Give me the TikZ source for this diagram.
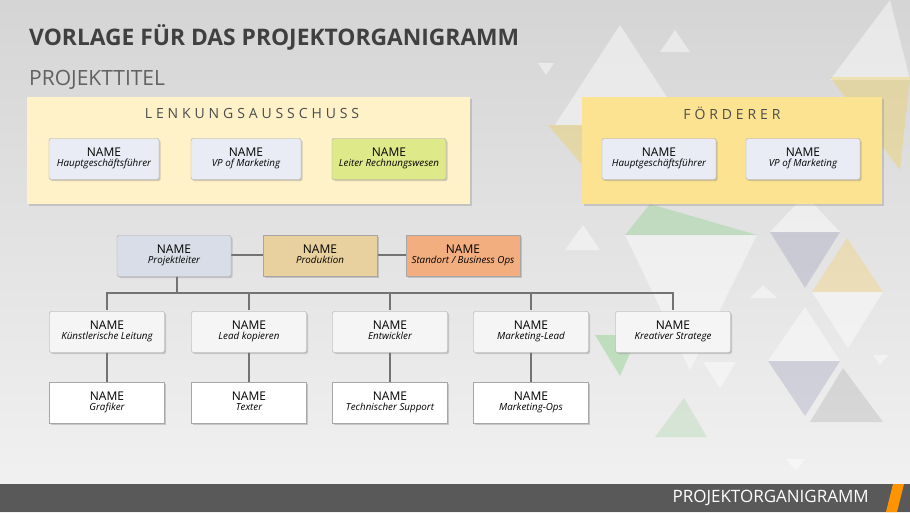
\documentclass[tikz,border=0pt]{standalone}
\usepackage{fontspec}
\setmainfont{Open Sans}
\usetikzlibrary{shadows}
\definecolor{lenk}{HTML}{FFF1C8}
\definecolor{foerd}{HTML}{FCE391}
\definecolor{cardb}{HTML}{E9ECF4}
\definecolor{plb}{HTML}{D9DDE8}
\definecolor{prod}{HTML}{E8D19E}
\definecolor{stand}{HTML}{F3AE80}
\definecolor{lime1}{HTML}{DEE98A}
\begin{document}
\begin{tikzpicture}[x=1pt,y=-1pt,
 card/.style={draw=gray!70,rounded corners=2pt,minimum width=110pt,minimum height=41pt,align=center,font=\fontsize{12}{13}\selectfont,drop shadow={shadow xshift=1.5pt,shadow yshift=-1.5pt,opacity=.35},inner sep=1pt},
 sq/.style={card,rounded corners=0pt},
 frame/.style={drop shadow={shadow xshift=2pt,shadow yshift=-2pt,opacity=.3}},
 con/.style={draw=gray!90!black,line width=1.6pt},
 tri/.style={fill=white,opacity=.45}]
\useasboundingbox (0,0) rectangle (910,512);
\shade[top color=gray!33,bottom color=gray!10] (0,0) rectangle (910,512);
% decorative triangles
\fill[tri] (620,25) -- (555,125) -- (685,125) -- cycle;
\fill[tri] (675,30) -- (660,52) -- (690,52) -- cycle;
\fill[tri] (538,63) -- (554,63) -- (546,75) -- cycle;
\fill[tri] (890,0) -- (830,80) -- (910,80) -- cycle;
\fill[yellow!60!orange,opacity=.25] (830,77) -- (910,77) -- (900,170) -- cycle;
\fill[yellow!60!orange,opacity=.25] (548,125) -- (582,125) -- (582,165) -- cycle;
\fill[green!50!gray,opacity=.2] (625,235) -- (757,235) -- (650,204) -- cycle;
\fill[tri] (625,235) -- (757,235) -- (690,370) -- cycle;
\fill[tri] (583,225) -- (565,250) -- (600,250) -- cycle;
\fill[tri] (770,232) -- (840,232) -- (805,195) -- cycle;
\fill[blue!20!gray,opacity=.2] (770,232) -- (840,232) -- (805,288) -- cycle;
\fill[orange!50!yellow,opacity=.2] (847,238) -- (812,292) -- (883,292) -- cycle;
\fill[tri] (812,292) -- (883,292) -- (848,348) -- cycle;
\fill[tri] (763,285) -- (750,298) -- (777,298) -- cycle;
\fill[tri] (805,307) -- (768,361) -- (840,361) -- cycle;
\fill[blue!20!gray,opacity=.2] (768,361) -- (840,361) -- (805,416) -- cycle;
\fill[gray,opacity=.2] (843,368) -- (810,422) -- (883,422) -- cycle;
\fill[green!50!gray,opacity=.25] (595,335) -- (638,335) -- (620,376) -- cycle;
\fill[tri] (703,362) -- (736,362) -- (720,388) -- cycle;
\fill[green!40!gray,opacity=.15] (684,398) -- (655,437) -- (707,437) -- cycle;
\fill[tri] (873,355) -- (888,355) -- (880,365) -- cycle;
\fill[tri] (786,459) -- (805,459) -- (796,471) -- cycle;
% titles
\node[anchor=west,font=\bfseries\fontsize{22.8}{24}\selectfont,text=black!75,inner sep=0pt] (t) at (29,37) {VORLAGE FÜR DAS PROJEKTORGANIGRAMM};
\node[anchor=west,font=\fontsize{21}{22}\selectfont,text=black!62,inner sep=0pt] (pt) at (29,80) {PROJEKTTITEL};
% frames
\fill[lenk,frame] (27,97) rectangle (470,204);
\fill[foerd,frame] (582,97) rectangle (882,204);
\node[font=\fontsize{14}{15}\selectfont,text=black!70] (lk) at (252,113) {L\;E\;N\;K\;U\;N\;G\;S\;A\;U\;S\;S\;C\;H\;U\;S\;S};
\node[font=\fontsize{14}{15}\selectfont,text=black!70] (fd) at (732,113) {F\;Ö\;R\;D\;E\;R\;E\;R};
\def\nm#1{NAME\\[-2.5pt]{\itshape\fontsize{9.8}{11}\selectfont\strut #1}}
\node[card,fill=cardb] (a1) at (104,159) {\nm{Hauptgeschäftsführer}};
\node[card,fill=cardb] (a2) at (246,159) {\nm{VP of Marketing}};
\node[card,fill=lime1,minimum width=114pt] (a3) at (389,159) {\nm{Leiter Rechnungswesen}};
\node[card,fill=cardb,minimum width=114pt] (f1) at (659,159) {\nm{Hauptgeschäftsführer}};
\node[card,fill=cardb,minimum width=114pt] (f2) at (803,159) {\nm{VP of Marketing}};
% connectors
\coordinate (bus) at (177,293);
\draw[con] (174,255) -- (320,255) -- (463,255);
\draw[con] (177,260) -- (bus);
\draw[con] (107,310) -- (107,293) -- (673,293) -- (673,310);
\foreach \x in {249,390,531} \draw[con] (\x,310) -- (\x,293);
\foreach \x in {107,249,390,531} \draw[con] (\x,340) -- (\x,390);
% row 2
\node[card,fill=plb,minimum width=114pt] (pl) at (174,256) {\nm{Projektleiter}};
\node[sq,fill=prod,minimum width=114pt] (pr) at (320,256) {\nm{Produktion}};
\node[sq,fill=stand,minimum width=114pt] (so) at (463,256) {\nm{Standort / Business Ops}};
% row 3
\node[card,fill=gray!8,minimum width=115pt] (b1) at (107,332) {\nm{Künstlerische Leitung}};
\node[card,fill=gray!8,minimum width=115pt] (b2) at (249,332) {\nm{Lead kopieren}};
\node[card,fill=gray!8,minimum width=115pt] (b3) at (390,332) {\nm{Entwickler}};
\node[card,fill=gray!8,minimum width=115pt] (b4) at (531,332) {\nm{Marketing-Lead}};
\node[card,fill=gray!8,minimum width=115pt] (b5) at (673,332) {\nm{Kreativer Stratege}};
\node[sq,fill=white,minimum width=115pt] (c1) at (107,403) {\nm{Grafiker}};
\node[sq,fill=white,minimum width=115pt] (c2) at (249,403) {\nm{Texter}};
\node[sq,fill=white,minimum width=115pt] (c3) at (390,403) {\nm{Technischer Support}};
\node[sq,fill=white,minimum width=115pt] (c4) at (531,403) {\nm{Marketing-Ops}};
% bottom bar
\fill[black!65] (0,484) rectangle (910,512);
\fill[orange!85!yellow] (893,484) -- (904,484) -- (897,512) -- (886,512) -- cycle;
\node[anchor=east,text=white,font=\fontsize{17}{18}\selectfont,inner sep=0pt] (ft) at (869,498) {PROJEKTORGANIGRAMM};
\end{tikzpicture}
\end{document}
